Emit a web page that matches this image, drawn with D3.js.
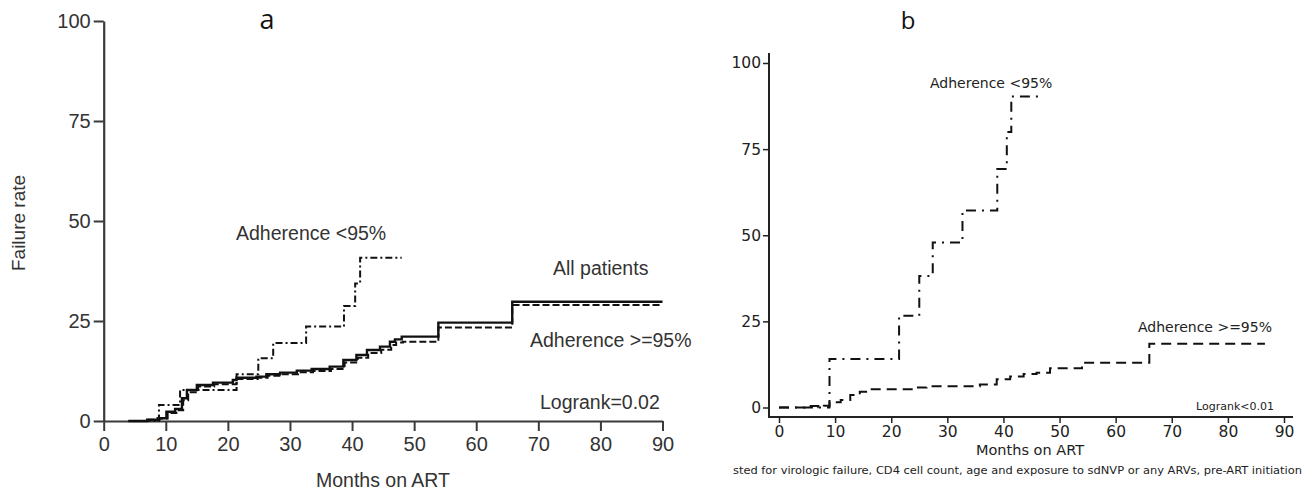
<!DOCTYPE html>
<html>
<head>
<meta charset="utf-8">
<script src="https://cdn.jsdelivr.net/npm/d3@7/dist/d3.min.js"></script>
<style>
  html, body { margin: 0; padding: 0; background: #fff; }
  svg { display: block; }
</style>
</head>
<body>
<svg id="chart" width="1316" height="493"></svg>
<script>
// ---------- Panel a data ----------
const aTicksX = [0, 10, 20, 30, 40, 50, 60, 70, 80, 90];
const aTicksY = [0, 25, 50, 75, 100];
const aAllMonths = [4, 7, 8.7, 10.1, 11.5, 12.6, 13.4, 15, 17.6, 20.8, 21.4, 24.6, 26.2, 28.4, 31.1, 33.5, 36.4, 38.6, 40.7, 42.4, 44.5, 46.1, 46.9, 48, 53.9, 65.8, 90];
const aAllRate   = [0, 0.3, 0.7, 2.3, 3, 5.7, 7.75, 9, 9.6, 10.25, 10.8, 11.1, 11.7, 12.1, 12.6, 13, 13.6, 15.25, 16.5, 17.75, 18.6, 19.8, 20.4, 21.1, 24.6, 29.8, 29.8];
const aHiMonths  = [4, 7.2, 9, 10.3, 11.7, 12.8, 13.6, 15.2, 17.8, 21.4, 24.8, 26.4, 28.6, 31.3, 33.7, 36.6, 38.8, 40.9, 42.6, 44.7, 46.3, 47.1, 48.2, 53.9, 65.8, 90];
const aHiRate    = [0, 0.3, 0.6, 2, 2.7, 5.2, 7.2, 8.6, 9.2, 10.5, 10.8, 11.3, 11.7, 12.2, 12.5, 13, 14.6, 15.8, 17, 17.8, 19, 19.6, 19.8, 23.4, 29, 29];
const aLoMonths  = [4, 8.9, 12.3, 21.4, 24.9, 27.3, 32.6, 38.7, 40.5, 41.3, 48];
const aLoRate    = [0, 4, 7.75, 11.7, 15.7, 19.5, 23.6, 28.75, 34.4, 40.8, 40.8];

// ---------- Panel b data ----------
const bTicksX = [0, 10, 20, 30, 40, 50, 60, 70, 80, 90];
const bTicksY = [0, 25, 50, 75, 100];
const bLoMonths = [0, 9, 21.4, 25, 27.4, 32.7, 38.9, 40.6, 41.4, 47.1];
const bLoRate   = [0, 14.1, 26.6, 38.2, 47.9, 57.2, 69.2, 80, 90.3, 90.3];
const bHiMonths = [0, 4.6, 7, 8, 9, 11, 12.7, 14.4, 16.2, 24.5, 26.3, 35.8, 38.8, 41.2, 43.6, 45.9, 48.3, 54, 66, 86.6];
const bHiRate   = [0, 0.4, 0.1, 0.5, 1.5, 2.2, 3.6, 4.6, 5.3, 5.8, 6.2, 6.7, 8.2, 9.0, 9.7, 10.1, 11.4, 13.0, 18.5, 18.5];

const zip = (ms, vs) => ms.map((m, i) => [m, vs[i]]);
const svg = d3.select("#chart");

// ================= Panel a =================
(function () {
  const x = d3.scaleLinear().domain([0, 90]).range([103.7, 662.5]);
  const y = d3.scaleLinear().domain([0, 100]).range([421, 21]);
  const font = "'Liberation Sans', Arial, sans-serif";
  const g = svg.append("g").attr("font-family", font).attr("fill", "#333");
  const axColor = "#3a3a3a";

  const yAx = g.append("g").attr("transform", `translate(${x(0)},0)`)
    .call(d3.axisLeft(y).tickValues(aTicksY).tickSize(10).tickSizeOuter(0).tickPadding(3));
  const xAx = g.append("g").attr("transform", `translate(0,${y(0)})`)
    .call(d3.axisBottom(x).tickValues(aTicksX).tickSize(10).tickSizeOuter(0).tickPadding(6));
  [yAx, xAx].forEach(a => {
    a.selectAll("path.domain").attr("stroke", axColor).attr("stroke-width", 2.2);
    a.selectAll(".tick line").attr("stroke", axColor).attr("stroke-width", 2);
    a.selectAll(".tick text").attr("font-size", 20).attr("fill", "#333").attr("font-family", font);
  });

  const line = d3.line().x(d => x(d[0])).y(d => y(d[1])).curve(d3.curveStepAfter);
  g.append("path").datum(zip(aHiMonths, aHiRate)).attr("d", line)
    .attr("fill", "none").attr("stroke", "#111").attr("stroke-width", 2).attr("stroke-dasharray", "7,3");
  g.append("path").datum(zip(aAllMonths, aAllRate)).attr("d", line)
    .attr("fill", "none").attr("stroke", "#111").attr("stroke-width", 2.4);
  g.append("path").datum(zip(aLoMonths, aLoRate)).attr("d", line)
    .attr("fill", "none").attr("stroke", "#111").attr("stroke-width", 2).attr("stroke-dasharray", "7,3,2,3");

  g.append("text").attr("x", 267).attr("y", 29).attr("text-anchor", "middle")
    .attr("font-size", 27).attr("fill", "#111").attr("font-family", "'Open Sans', 'Liberation Sans', sans-serif").text("a");
  g.append("text").attr("transform", "translate(25,223) rotate(-90)").attr("text-anchor", "middle")
    .attr("font-size", 19).text("Failure rate");
  g.append("text").attr("x", 383).attr("y", 487).attr("text-anchor", "middle").attr("font-size", 19.5).text("Months on ART");
  g.append("text").attr("x", 236).attr("y", 240).attr("font-size", 19.5).text("Adherence <95%");
  g.append("text").attr("x", 553).attr("y", 275).attr("font-size", 19.5).text("All patients");
  g.append("text").attr("x", 530).attr("y", 347).attr("font-size", 19.5).text("Adherence >=95%");
  g.append("text").attr("x", 540).attr("y", 409).attr("font-size", 19.5).text("Logrank=0.02");
})();

// ================= Panel b =================
(function () {
  const x = d3.scaleLinear().domain([0, 90]).range([779, 1284]);
  const y = d3.scaleLinear().domain([0, 100]).range([407.5, 63]);
  const font = "'DejaVu Sans', Verdana, sans-serif";
  const g = svg.append("g").attr("font-family", font).attr("fill", "#222");
  const axX = 769, axY = 417;

  const yAx = g.append("g").attr("transform", `translate(${axX},0)`)
    .call(d3.axisLeft(y).tickValues(bTicksY).tickSize(6).tickSizeOuter(0).tickPadding(2));
  const xAx = g.append("g").attr("transform", `translate(0,${axY})`)
    .call(d3.axisBottom(x).tickValues(bTicksX).tickSize(6).tickSizeOuter(0).tickPadding(3));
  [yAx, xAx].forEach(a => {
    a.select("path.domain").remove();
    a.selectAll(".tick line").attr("stroke", "#222").attr("stroke-width", 1.5);
    a.selectAll(".tick text").attr("font-size", 15.5).attr("fill", "#222").attr("font-family", font);
  });
  g.append("line").attr("x1", axX).attr("x2", axX).attr("y1", 53).attr("y2", axY + 1)
    .attr("stroke", "#222").attr("stroke-width", 2);
  g.append("line").attr("x1", axX - 1).attr("x2", 1293).attr("y1", axY).attr("y2", axY)
    .attr("stroke", "#222").attr("stroke-width", 2);

  const line = d3.line().x(d => x(d[0])).y(d => y(d[1])).curve(d3.curveStepAfter);
  g.append("path").datum(zip(bHiMonths, bHiRate)).attr("d", line)
    .attr("fill", "none").attr("stroke", "#111").attr("stroke-width", 2).attr("stroke-dasharray", "10,6");
  g.append("path").datum(zip(bLoMonths, bLoRate)).attr("d", line)
    .attr("fill", "none").attr("stroke", "#111").attr("stroke-width", 2).attr("stroke-dasharray", "10,6,2,6");

  g.append("text").attr("x", 908).attr("y", 29).attr("text-anchor", "middle")
    .attr("font-size", 24).attr("fill", "#111").attr("font-family", "'Open Sans', 'Liberation Sans', sans-serif").text("b");
  g.append("text").attr("x", 930).attr("y", 88).attr("font-size", 14).text("Adherence <95%");
  g.append("text").attr("x", 1138).attr("y", 332).attr("font-size", 14).text("Adherence >=95%");
  g.append("text").attr("x", 1274).attr("y", 410).attr("text-anchor", "end").attr("font-size", 11).text("Logrank<0.01");
  g.append("text").attr("x", 1030).attr("y", 455).attr("text-anchor", "middle").attr("font-size", 14.5).text("Months on ART");
  g.append("text").attr("x", 733).attr("y", 474).attr("font-size", 10.5)
    .attr("textLength", 569).attr("lengthAdjust", "spacingAndGlyphs")
    .text("sted for virologic failure, CD4 cell count, age and exposure to sdNVP or any ARVs, pre-ART initiation");
})();
</script>
</body>
</html>
